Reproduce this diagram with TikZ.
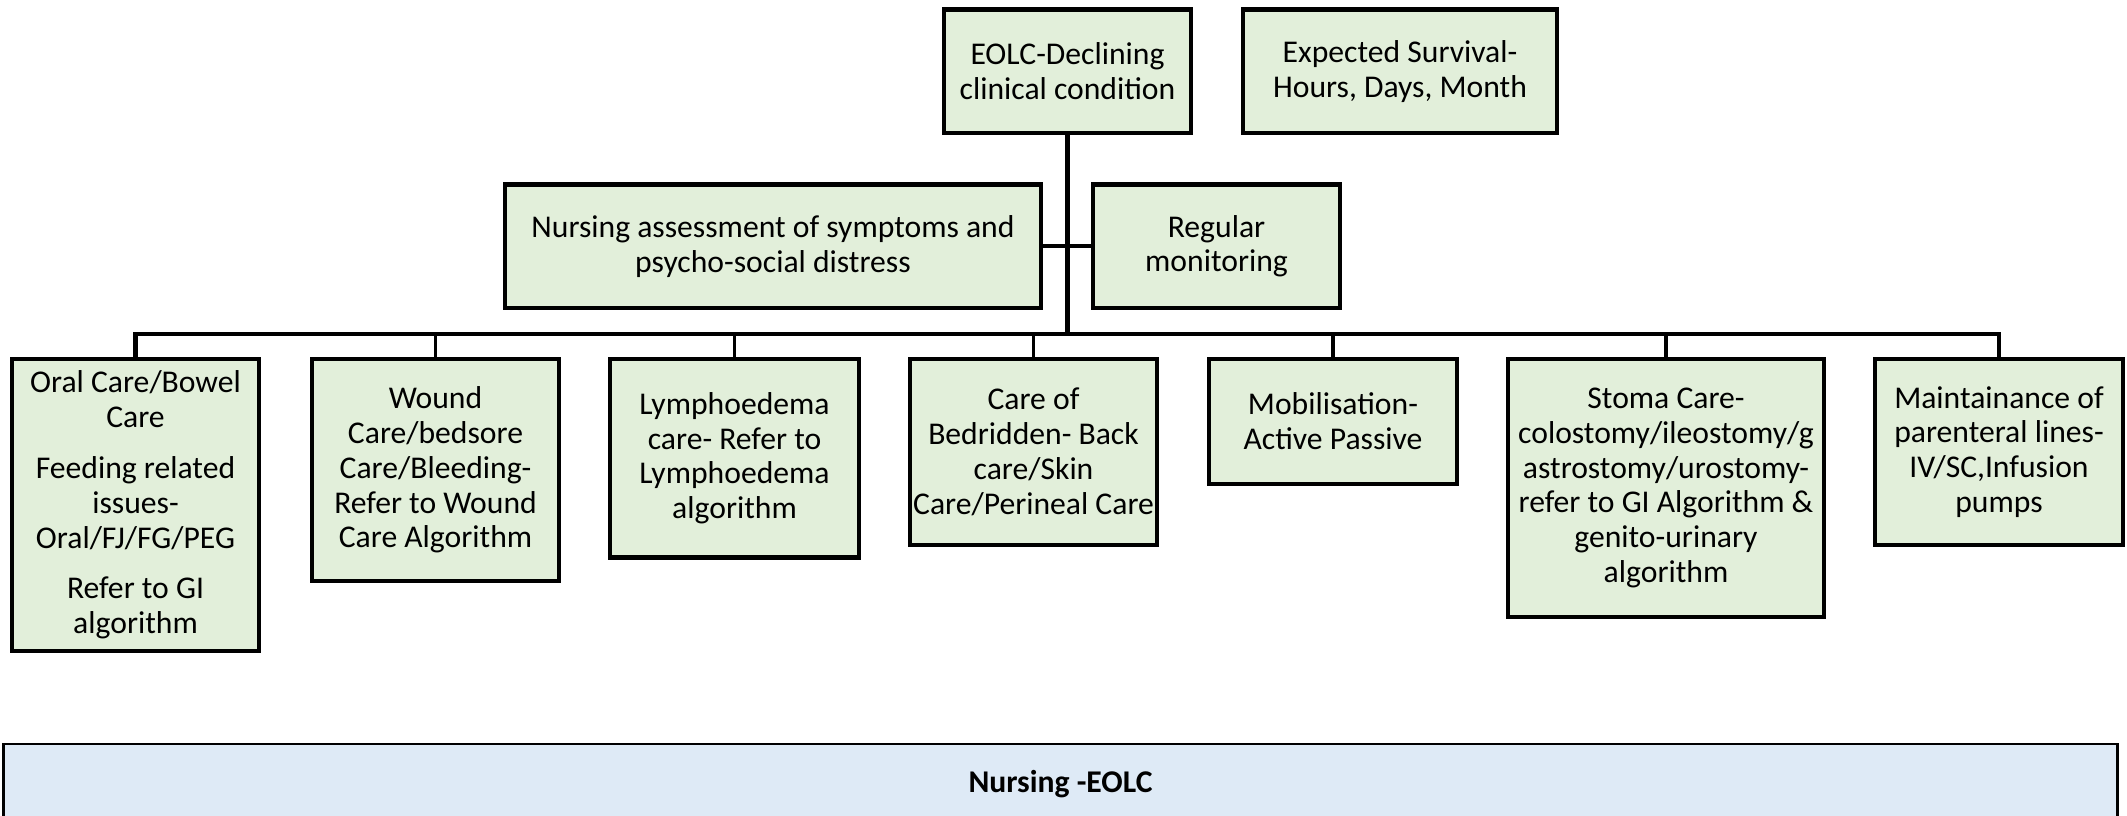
\documentclass[tikz,border=0pt]{standalone}
\usepackage{fontspec}
\setmainfont{Carlito}
\definecolor{boxgreen}{HTML}{E2EFDA}
\definecolor{barblue}{HTML}{DEEAF6}
\tikzset{
  careBox/.style={draw, line width=1.2pt, fill=boxgreen, align=center, inner sep=0pt,
    font=\fontsize{9}{9.9}\selectfont},
  link/.style={line width=1pt},
}
\begin{document}
\begin{tikzpicture}[x=0.01cm, y=-0.01cm]
  \useasboundingbox (0, 0) rectangle (2127, 816);
  \clip (0, 0) rectangle (2127, 816);

  \node[careBox, minimum width=2.47cm, minimum height=1.235cm] (eolc) at (1067.5, 71.25)
    {EOLC-Declining\\clinical condition};
  \node[careBox, minimum width=3.14cm, minimum height=1.235cm] (survival) at (1400, 71.25)
    {Expected Survival-\\Hours, Days, Month};
  \node[careBox, minimum width=5.36cm, minimum height=1.235cm] (assess) at (773, 246.25)
    {Nursing assessment of symptoms and\\psycho-social distress};
  \node[careBox, minimum width=2.47cm, minimum height=1.235cm] (monitor) at (1216.5, 246.25)
    {Regular\\monitoring};

  \node[careBox, minimum width=2.47cm, minimum height=2.92cm] (oral) at (135.5, 505)
    {Oral Care/Bowel\\Care\\[4.5pt]Feeding related\\issues-\\Oral/FJ/FG/PEG\\[4.5pt]Refer to GI\\algorithm};
  \node[careBox, minimum width=2.47cm, minimum height=2.22cm] (wound) at (435.5, 470)
    {Wound\\Care/bedsore\\Care/Bleeding-\\Refer to Wound\\Care Algorithm};
  \node[careBox, minimum width=2.49cm, minimum height=1.985cm] (lymph) at (734.5, 458.25)
    {Lymphoedema\\care- Refer to\\Lymphoedema\\algorithm};
  \node[careBox, minimum width=2.47cm, minimum height=1.86cm] (bedridden) at (1033.5, 452)
    {Care of\\Bedridden- Back\\care/Skin\\Care/Perineal Care};
  \node[careBox, minimum width=2.48cm, minimum height=1.25cm] (mobil) at (1333, 421.5)
    {Mobilisation-\\Active Passive};
  \node[careBox, minimum width=3.165cm, minimum height=2.58cm] (stoma) at (1666, 488)
    {Stoma Care-\\colostomy/ileostomy/g\\astrostomy/urostomy-\\refer to GI Algorithm \&\\genito-urinary\\algorithm};
  \node[careBox, minimum width=2.48cm, minimum height=1.86cm] (lines) at (1999, 452)
    {Maintainance of\\parenteral lines-\\IV/SC,Infusion\\pumps};

  \coordinate (bus) at (1067.5, 334);
  \draw[line width=1.3pt] (eolc.south) -- (bus);
  \draw[link] (assess.east) -- (monitor.west);
  \draw[line width=1.15pt] (oral.north) |- (bus) -| (lines.north);
  \foreach \n in {wound, lymph, bedridden, mobil, stoma}
    \draw[link] (\n.north) -- (\n.north |- bus);

  \node[draw, line width=0.8pt, fill=barblue, minimum width=21.13cm, minimum height=0.8cm,
    font=\fontsize{9}{9.9}\selectfont\bfseries] (title) at (1060.5, 784) {Nursing -EOLC};
\end{tikzpicture}
\end{document}
